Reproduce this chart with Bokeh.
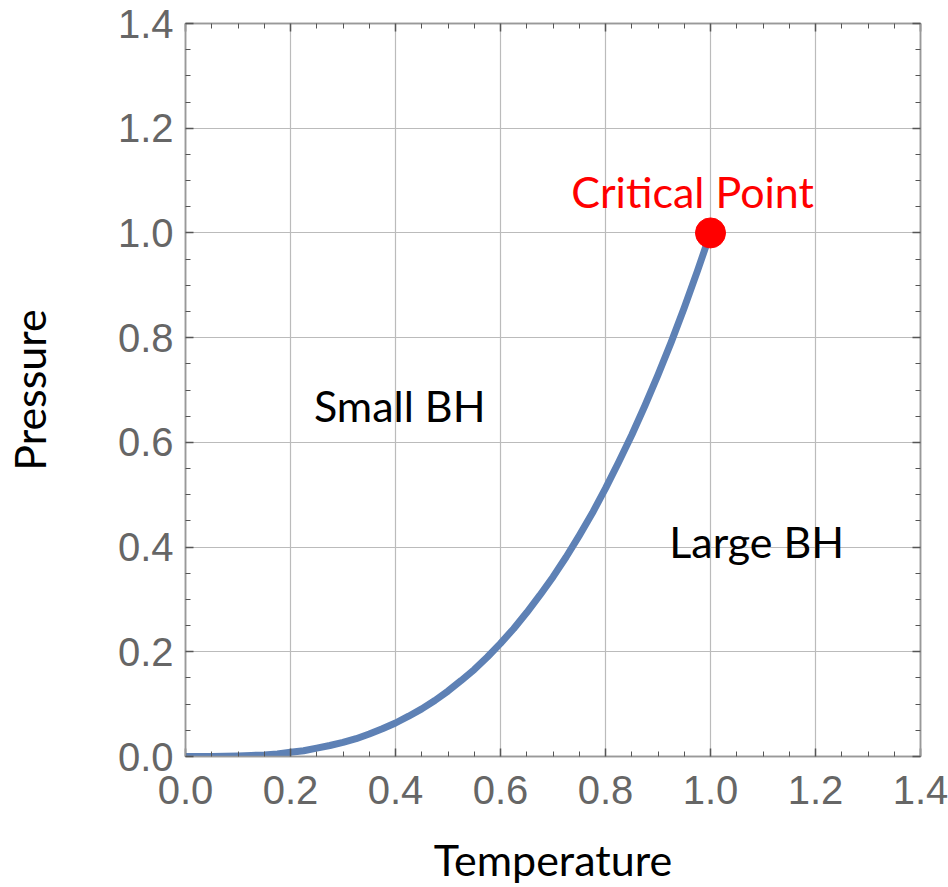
from bokeh.plotting import figure
from bokeh.models import Range1d, LinearAxis, FixedTicker, PrintfTickFormatter, CustomJSTickFormatter, Label
from bokeh.embed import file_html
from bokeh.resources import INLINE

# Coexistence curve
temperature = [0.0, 0.025, 0.05, 0.075, 0.10, 0.125, 0.15, 0.175, 0.20, 0.225, 0.25,
               0.275, 0.30, 0.325, 0.35, 0.375, 0.40, 0.425, 0.45, 0.475, 0.50,
               0.525, 0.55, 0.575, 0.60, 0.625, 0.65, 0.675, 0.70, 0.725, 0.75,
               0.775, 0.80, 0.825, 0.85, 0.875, 0.90, 0.925, 0.95, 0.975, 1.00]
pressure = [0.0, 0.0, 0.0001, 0.0004, 0.001, 0.002, 0.003, 0.005, 0.008, 0.011, 0.016,
            0.021, 0.027, 0.034, 0.043, 0.053, 0.064, 0.077, 0.091, 0.107, 0.125,
            0.145, 0.166, 0.190, 0.216, 0.244, 0.275, 0.308, 0.343, 0.381, 0.422,
            0.465, 0.512, 0.562, 0.614, 0.670, 0.729, 0.791, 0.857, 0.927, 1.00]
critical_t = [1.0]
critical_p = [1.0]

major_ticks = [0.0, 0.2, 0.4, 0.6, 0.8, 1.0, 1.2, 1.4]
minor_ticks = [0.05, 0.10, 0.15, 0.25, 0.30, 0.35, 0.45, 0.50, 0.55, 0.65, 0.70, 0.75,
               0.85, 0.90, 0.95, 1.05, 1.10, 1.15, 1.25, 1.30, 1.35]

x_label = "Temperature"
y_label = "Pressure"
crit_label = "Critical Point"
small_label = "Small BH"
large_label = "Large BH"

p = figure(width=948, height=887, output_backend="svg", toolbar_location=None,
           x_range=Range1d(0, 1.4), y_range=Range1d(0, 1.4),
           min_border_left=185, min_border_right=28, min_border_top=23, min_border_bottom=131)
p.background_fill_color = "white"
p.border_fill_color = "white"
p.outline_line_color = "#999999"
p.outline_line_width = 1.5

label_font = "Lato"
label_size = "43px"
tick_font = "Liberation Sans"

def style_axis(ax, show_labels):
    ax.ticker = FixedTicker(ticks=major_ticks, minor_ticks=minor_ticks)
    ax.axis_line_color = "#999999"
    ax.axis_line_width = 1.5
    ax.major_tick_in = 8
    ax.major_tick_out = 0
    ax.minor_tick_in = 5
    ax.minor_tick_out = 0
    ax.major_tick_line_color = "#555555"
    ax.major_tick_line_width = 1.5
    ax.minor_tick_line_color = "#555555"
    ax.minor_tick_line_width = 1
    if show_labels:
        ax.formatter = PrintfTickFormatter(format="%.1f")
        ax.major_label_text_font = tick_font
        ax.major_label_text_font_size = "40px"
        ax.major_label_text_color = "#666666"
    else:
        ax.formatter = CustomJSTickFormatter(code="return ''")
        ax.major_label_text_font_size = "1px"
        ax.major_label_standoff = 0

style_axis(p.xaxis[0], True)
style_axis(p.yaxis[0], True)
p.xaxis.major_label_standoff = 19
p.yaxis.major_label_standoff = 12
p.xaxis.axis_label = x_label
p.yaxis.axis_label = y_label
for ax in (p.xaxis[0], p.yaxis[0]):
    ax.axis_label_text_font = label_font
    ax.axis_label_text_font_size = label_size
    ax.axis_label_text_font_style = "normal"
    ax.axis_label_text_color = "black"
p.xaxis.axis_label_standoff = 27
p.yaxis.axis_label_standoff = 60

top_ax = LinearAxis()
right_ax = LinearAxis()
style_axis(top_ax, False)
style_axis(right_ax, False)
p.add_layout(top_ax, "above")
p.add_layout(right_ax, "right")

p.xgrid.ticker = FixedTicker(ticks=major_ticks)
p.ygrid.ticker = FixedTicker(ticks=major_ticks)
p.grid.grid_line_color = "#bbbbbb"
p.grid.grid_line_width = 1.2

p.line(temperature, pressure, line_color="#5E81B5", line_width=7, line_join="round")
p.scatter(critical_t, critical_p, size=30, fill_color="#FF0000", line_color="#FF0000")

p.add_layout(Label(x=0.966, y=1.08, text=crit_label, text_color="#FF0000",
                   text_font=label_font, text_font_size=label_size,
                   text_align="center", text_baseline="alphabetic"))
p.add_layout(Label(x=0.408, y=0.67, text=small_label, text_color="black",
                   text_font=label_font, text_font_size=label_size,
                   text_align="center", text_baseline="alphabetic"))
p.add_layout(Label(x=1.088, y=0.41, text=large_label, text_color="black",
                   text_font=label_font, text_font_size=label_size,
                   text_align="center", text_baseline="alphabetic"))

open("out.html", "w").write(file_html(p, INLINE))
